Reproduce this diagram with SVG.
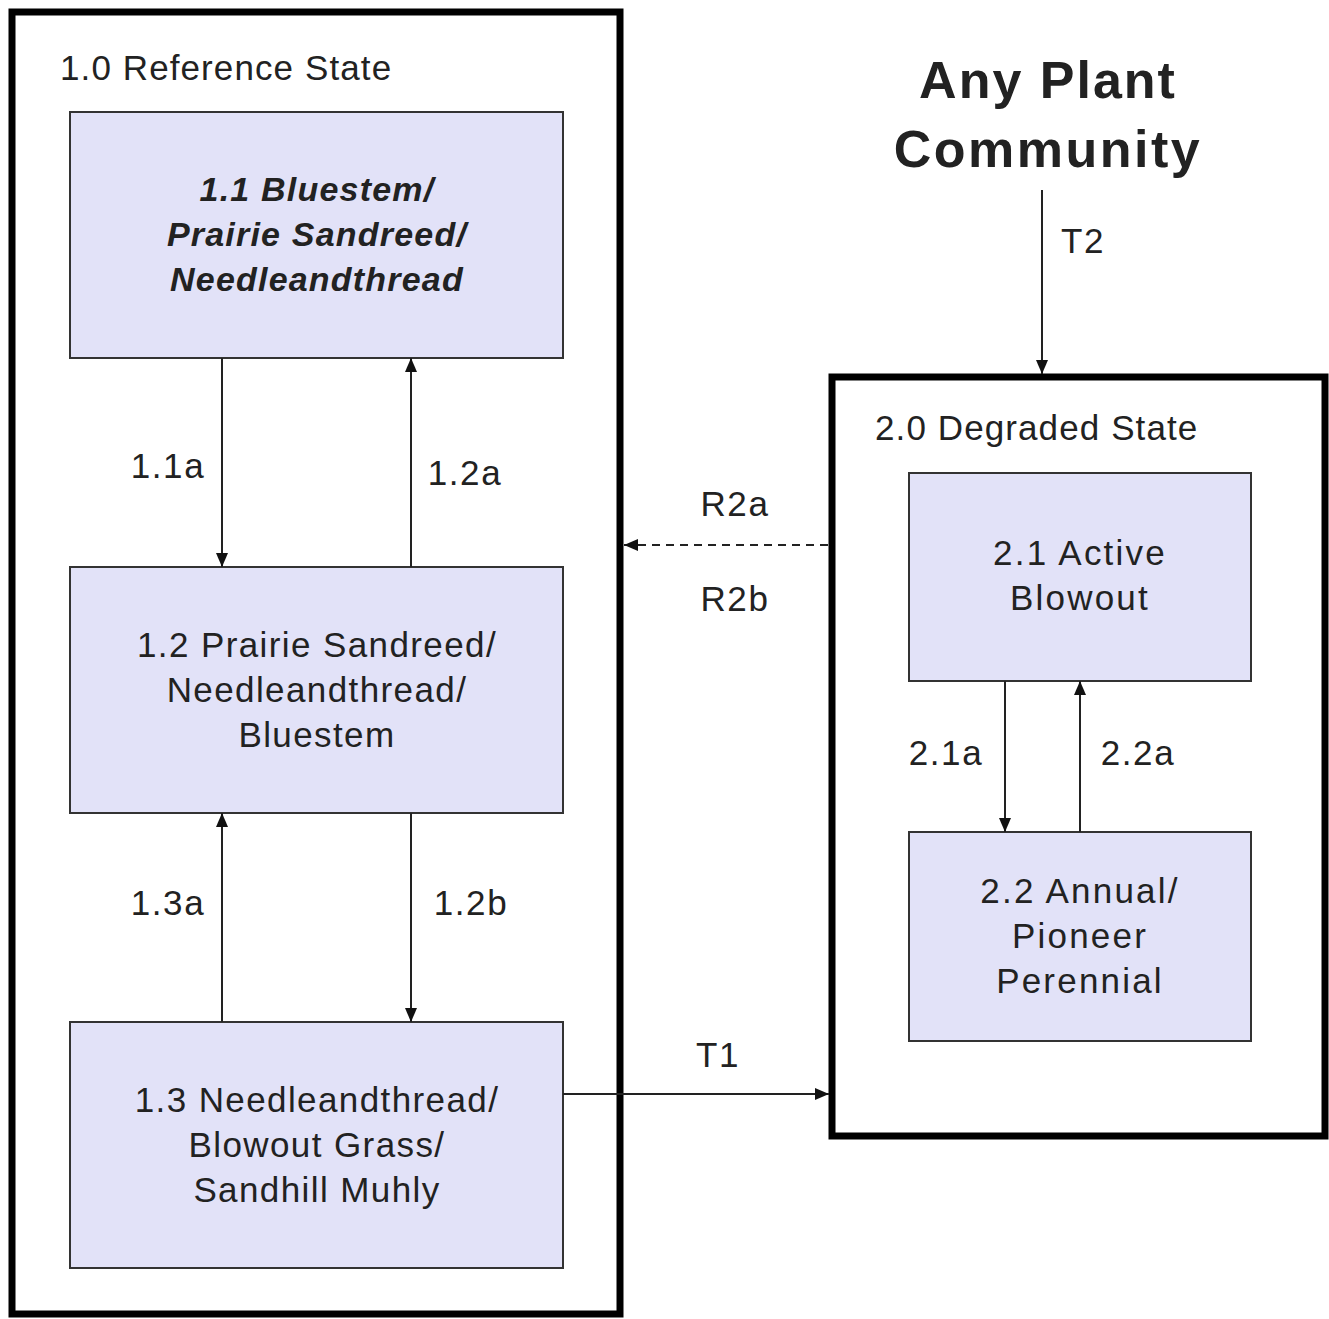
<svg xmlns="http://www.w3.org/2000/svg" width="1329" height="1319" viewBox="0 0 1329 1319">
<style>
.state{fill:#fff;stroke:#000;stroke-width:7}
.node{fill:#e2e2f8;stroke:#333;stroke-width:2}
text{font-family:"Liberation Sans",Arial,sans-serif;fill:#222}
.nt{font-size:35px;text-anchor:middle;letter-spacing:1.4px}
.bi{font-size:34px;font-weight:bold;font-style:italic;letter-spacing:1.2px}
.rt{letter-spacing:2.2px}
.lb{font-size:35px;letter-spacing:1.1px}
.cl{font-size:35px;text-anchor:middle;letter-spacing:1.6px}
.conn{stroke:#222;stroke-width:2;fill:none}
</style>
<defs>
<marker id="ah" viewBox="0 0 14 12" refX="14" refY="6" markerWidth="14" markerHeight="12" markerUnits="userSpaceOnUse" orient="auto">
<path d="M0,0 L14,6 L0,12 z" fill="#111"/>
</marker>
</defs>
<rect width="1329" height="1319" fill="#fff"/>
<g id="state1">
<rect class="state" x="12" y="12" width="608" height="1302"/>
<text class="lb" x="60" y="80">1.0 Reference State</text>
</g>
<g id="state2">
<rect class="state" x="832" y="377" width="493" height="759"/>
<text class="lb" x="875" y="440">2.0 Degraded State</text>
</g>
<g id="any">
<text x="1048" y="98" font-size="52" font-weight="bold" text-anchor="middle" letter-spacing="2" fill="#111">Any Plant</text>
<text x="1048" y="167" font-size="52" font-weight="bold" text-anchor="middle" letter-spacing="2.5" fill="#111">Community</text>
</g>
<g id="n11">
<rect class="node" x="70" y="112" width="493" height="246"/>
<text class="nt bi" x="317" y="201">1.1 Bluestem/</text>
<text class="nt bi" x="317" y="246">Prairie Sandreed/</text>
<text class="nt bi" x="317" y="291">Needleandthread</text>
</g>
<g id="n12">
<rect class="node" x="70" y="567" width="493" height="246"/>
<text class="nt" x="317" y="657">1.2 Prairie Sandreed/</text>
<text class="nt" x="317" y="702">Needleandthread/</text>
<text class="nt" x="317" y="747">Bluestem</text>
</g>
<g id="n13">
<rect class="node" x="70" y="1022" width="493" height="246"/>
<text class="nt" x="317" y="1112">1.3 Needleandthread/</text>
<text class="nt" x="317" y="1157">Blowout Grass/</text>
<text class="nt" x="317" y="1202">Sandhill Muhly</text>
</g>
<g id="n21">
<rect class="node" x="909" y="473" width="342" height="208"/>
<text class="nt rt" x="1080" y="565">2.1 Active</text>
<text class="nt rt" x="1080" y="610">Blowout</text>
</g>
<g id="n22">
<rect class="node" x="909" y="832" width="342" height="209"/>
<text class="nt rt" x="1080" y="903">2.2 Annual/</text>
<text class="nt rt" x="1080" y="948">Pioneer</text>
<text class="nt rt" x="1080" y="993">Perennial</text>
</g>
<g id="connectors">
<line class="conn" x1="222" y1="358" x2="222" y2="567" marker-end="url(#ah)"/>
<line class="conn" x1="411" y1="567" x2="411" y2="358" marker-end="url(#ah)"/>
<line class="conn" x1="222" y1="1022" x2="222" y2="813" marker-end="url(#ah)"/>
<line class="conn" x1="411" y1="813" x2="411" y2="1022" marker-end="url(#ah)"/>
<line class="conn" x1="1005" y1="681" x2="1005" y2="832" marker-end="url(#ah)"/>
<line class="conn" x1="1080" y1="832" x2="1080" y2="681" marker-end="url(#ah)"/>
<line class="conn" x1="1042" y1="190" x2="1042" y2="374" marker-end="url(#ah)"/>
<line class="conn" x1="828" y1="545" x2="624" y2="545" stroke-dasharray="8,6" marker-end="url(#ah)"/>
<line class="conn" x1="563" y1="1094" x2="829" y2="1094" marker-end="url(#ah)"/>
<text class="cl" x="168" y="478">1.1a</text>
<text class="cl" x="465" y="485">1.2a</text>
<text class="cl" x="168" y="915">1.3a</text>
<text class="cl" x="471" y="915">1.2b</text>
<text class="cl" x="946" y="765">2.1a</text>
<text class="cl" x="1138" y="765">2.2a</text>
<text class="cl" x="1083" y="253">T2</text>
<text class="cl" x="735" y="516">R2a</text>
<text class="cl" x="735" y="611">R2b</text>
<text class="cl" x="718" y="1067">T1</text>
</g>
</svg>
